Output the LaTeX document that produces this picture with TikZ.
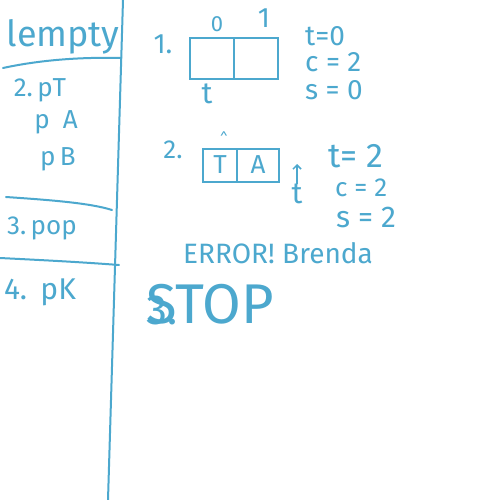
\documentclass[tikz,border=0pt]{standalone}
\usepackage{fontspec}
\usetikzlibrary{arrows.meta}
\setmainfont{Fira Sans}
\definecolor{ink}{RGB}{76,168,206}
\begin{document}
\begin{tikzpicture}[x=1pt,y=-1pt,
  ink/.style={draw=ink,line width=2pt,line cap=round},
  txt/.style={text=ink,inner sep=0pt,anchor=center},
  fs/.style={font=\fontsize{#1}{#1}\selectfont}]
\useasboundingbox[fill=white] (0,0) rectangle (500,500);
% left column
\coordinate (vt) at (123,0);
\coordinate (vb) at (108,500);
\draw[ink] (vt) -- (vb);
\coordinate (h1a) at (3,68); \coordinate (h1b) at (121,58);
\coordinate (h2a) at (6,197); \coordinate (h2b) at (112,210);
\coordinate (h3a) at (0,258); \coordinate (h3b) at (119,265);
\draw[ink] (h1a) .. controls (40,60) and (80,57) .. (h1b);
\draw[ink] (h2a) .. controls (50,200) and (90,203) .. (h2b);
\draw[ink] (h3a) .. controls (40,260) and (80,262) .. (h3b);
\node[txt,fs=36] (empty) at (63,37) {lempty};
\node[txt,fs=26] (pt) at (40,90) {2.\,pT};
\node[txt,fs=26] (pa) at (56,122) {p\enspace A};
\node[txt,fs=26] (pb) at (58,159) {p\,B};
\node[txt,fs=26] (pop) at (42,228) {3.\,pop};
\node[txt,fs=30] (pk) at (40,292) {4.\;\,pK};
% step 1
\node[txt,fs=28] (one) at (163,44) {1.};
\node[ink,minimum width=44pt,minimum height=41pt,inner sep=0pt] (c10) at (212,59) {};
\node[ink,minimum width=44pt,minimum height=41pt,inner sep=0pt] (c11) at (256,59) {};
\node[txt,fs=22] (i0) at (217,24) {0};
\node[txt,fs=28] (i1) at (264,18) {1};
\node[txt,fs=30] (tp1) at (207,94) {t};
\node[txt,fs=28,anchor=west] (t0) at (305,36) {t=0};
\node[txt,fs=28,anchor=west] (cc0) at (305,62) {c = 2};
\node[txt,fs=28,anchor=west] (s0) at (305,90) {s = 0};
% step 2
\node[txt,fs=26] (two) at (173,150) {2.};
\node[ink,txt,minimum width=34pt,minimum height=33pt,inner sep=0pt,fs=26] (cT) at (220,165) {T};
\node[ink,txt,minimum width=42pt,minimum height=33pt,inner sep=0pt,fs=26] (cA) at (258,165) {A};
\node[txt,fs=14] (hat) at (224,138) {\textasciicircum};
\node[txt,fs=30] (tp2) at (297,194) {t};
\coordinate (arrtop) at (297,164);
\draw[ink,line width=1.5pt,-{Straight Barb[length=4pt]}] (tp2.north) -- (arrtop);
\node[txt,fs=34,anchor=west] (t2) at (328,156) {t= 2};
\node[txt,fs=26,anchor=west] (c2) at (335,188) {c = 2};
\node[txt,fs=30,anchor=west] (s2) at (336,217) {s = 2};
% error
\node[txt,fs=28] (err) at (278,253) {ERROR! Brenda};
% stop
\node[txt,fs=56,anchor=west] (stop) at (146,304) {STOP};
\node[txt,fs=42,anchor=west] (three) at (146,310) {3.};
\end{tikzpicture}
\end{document}
